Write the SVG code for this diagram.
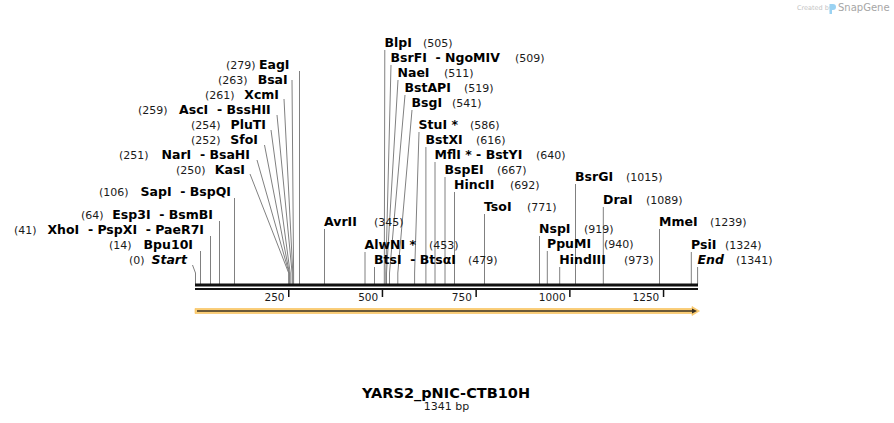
<svg xmlns="http://www.w3.org/2000/svg" width="894" height="423" viewBox="0 0 894 423">
<style>
.n{font-family:"DejaVu Sans",Verdana,sans-serif;font-weight:bold;font-size:12.5px;fill:#000;white-space:pre}
.p{font-family:"DejaVu Sans",Verdana,sans-serif;font-size:11px;fill:#1a1a1a}
.e{text-anchor:end}
.it{font-style:italic}
.tk{font-family:"DejaVu Sans",Verdana,sans-serif;font-size:10.5px;fill:#1a1a1a;text-anchor:end}
.c{fill:none;stroke:#808080;stroke-width:1}
</style>
<rect width="894" height="423" fill="#fff"/>

<g id="logo">
<text x="797" y="10" font-family="DejaVu Sans, sans-serif" font-size="6.5" fill="#c4c4c4">Created by</text>
<path d="M829.5 4 h3.5 a3 3 0 0 1 0 6 h-1 v4 h-2.5 z" fill="#9ad2f2"/>
<text x="838" y="11" font-family="DejaVu Sans, sans-serif" font-size="10" fill="#a6a6a6">SnapGene</text>
</g>

<g id="connectors" class="c">
<polyline points="192.5,265 195.5,273 195.5,284"/>
<line x1="200.5" y1="251" x2="200.5" y2="284"/>
<line x1="210.5" y1="236" x2="210.5" y2="284"/>
<line x1="219.5" y1="221" x2="219.5" y2="284"/>
<line x1="234.5" y1="198" x2="234.5" y2="284"/>
<polyline points="250,174 288.7,273 288.7,284"/>
<polyline points="257,160 289.1,273 289.1,284"/>
<polyline points="264.5,145 289.4,273 289.4,284"/>
<polyline points="271,130 290.2,273 290.2,284"/>
<polyline points="277,115 292.1,273 292.1,284"/>
<polyline points="284,99 292.8,273 292.8,284"/>
<polyline points="292,80 293.6,273 293.6,284"/>
<line x1="299.5" y1="71" x2="299.5" y2="284"/>
<line x1="324.5" y1="229" x2="324.5" y2="284"/>
<line x1="365" y1="252" x2="365" y2="284"/>
<line x1="374.5" y1="267" x2="374.5" y2="284"/>
<polyline points="384.8,50 384.3,273 384.3,284"/>
<polyline points="391,65 385.8,273 385.8,284"/>
<polyline points="398,80 386.5,273 386.5,284"/>
<polyline points="405,95 389.5,273 389.5,284"/>
<polyline points="412,110 397.8,273 397.8,284"/>
<polyline points="419,132 414.6,273 414.6,284"/>
<line x1="425.9" y1="147" x2="425.9" y2="284"/>
<line x1="435" y1="162" x2="435" y2="284"/>
<line x1="445" y1="177" x2="445" y2="284"/>
<line x1="454.5" y1="192" x2="454.5" y2="284"/>
<line x1="484.5" y1="214" x2="484.5" y2="284"/>
<line x1="539.5" y1="236" x2="539.5" y2="284"/>
<line x1="547.3" y1="251" x2="547.3" y2="284"/>
<line x1="559.7" y1="267" x2="559.7" y2="284"/>
<line x1="575.5" y1="184" x2="575.5" y2="284"/>
<line x1="603.3" y1="207" x2="603.3" y2="284"/>
<line x1="659.5" y1="229" x2="659.5" y2="284"/>
<line x1="691.3" y1="252" x2="691.3" y2="284"/>
<line x1="697.6" y1="267" x2="697.6" y2="284"/>
</g>

<g id="axis">
<rect x="195" y="283.5" width="503" height="3" fill="#111"/>
<rect x="195" y="288" width="503" height="2" fill="#111"/>
<rect x="288" y="290" width="1.5" height="7" fill="#111"/>
<rect x="381.7" y="290" width="1.5" height="7" fill="#111"/>
<rect x="475.4" y="290" width="1.5" height="7" fill="#111"/>
<rect x="569.1" y="290" width="1.5" height="7" fill="#111"/>
<rect x="662.8" y="290" width="1.5" height="7" fill="#111"/>
<text class="tk" x="284.5" y="300.5">250</text>
<text class="tk" x="378.2" y="300.5">500</text>
<text class="tk" x="471.9" y="300.5">750</text>
<text class="tk" x="565.6" y="300.5">1000</text>
<text class="tk" x="659.3" y="300.5">1250</text>
</g>

<g id="feature">
<polygon points="195,308.5 692,308.5 692,306.5 699.5,311 692,315.5 692,313.5 195,313.5" fill="#fbcd74" stroke="#f6bd55" stroke-width="0.6"/>
<line x1="197" y1="311" x2="693" y2="311" stroke="#3b3223" stroke-width="1.6"/>
<polygon points="692,308.6 697,311 692,313.4" fill="#3b3223"/>
</g>

<g id="EagI"><text class="p" x="226" y="69">(279)</text><text class="n e" x="289.5" y="69">EagI</text></g>
<g id="BsaI"><text class="p" x="218" y="84">(263)</text><text class="n e" x="287.7" y="84">BsaI</text></g>
<g id="XcmI"><text class="p" x="205" y="99">(261)</text><text class="n e" x="279" y="99">XcmI</text></g>
<g id="AscI"><text class="p" x="138" y="114">(259)</text><text class="n e" x="270.7" y="114">AscI  - BssHII</text></g>
<g id="PluTI"><text class="p" x="191" y="129">(254)</text><text class="n e" x="266" y="129">PluTI</text></g>
<g id="SfoI"><text class="p" x="191" y="144">(252)</text><text class="n e" x="258" y="144">SfoI</text></g>
<g id="NarI"><text class="p" x="119" y="159">(251)</text><text class="n e" x="250" y="159">NarI  - BsaHI</text></g>
<g id="KasI"><text class="p" x="176" y="174">(250)</text><text class="n e" x="245" y="174">KasI</text></g>
<g id="SapI"><text class="p" x="99" y="196">(106)</text><text class="n e" x="231" y="196">SapI  - BspQI</text></g>
<g id="Esp3I"><text class="p" x="81" y="219">(64)</text><text class="n e" x="213" y="219">Esp3I  - BsmBI</text></g>
<g id="XhoI"><text class="p" x="14" y="234">(41)</text><text class="n e" x="204" y="234">XhoI  - PspXI  - PaeR7I</text></g>
<g id="Bpu10I"><text class="p" x="109" y="249">(14)</text><text class="n e" x="193" y="249">Bpu10I</text></g>
<g id="Start"><text class="p" x="129" y="264">(0)</text><text class="n e it" x="187" y="264">Start</text></g>

<g id="BlpI"><text class="n" x="384.5" y="47">BlpI</text><text class="p" x="423" y="47">(505)</text></g>
<g id="BsrFI"><text class="n" x="390.5" y="62">BsrFI  - NgoMIV</text><text class="p" x="515" y="62">(509)</text></g>
<g id="NaeI"><text class="n" x="397.5" y="77">NaeI</text><text class="p" x="444" y="77">(511)</text></g>
<g id="BstAPI"><text class="n" x="404.5" y="92">BstAPI</text><text class="p" x="464" y="92">(519)</text></g>
<g id="BsgI"><text class="n" x="411.5" y="107">BsgI</text><text class="p" x="452" y="107">(541)</text></g>
<g id="StuI"><text class="n" x="418.5" y="129">StuI *</text><text class="p" x="470" y="129">(586)</text></g>
<g id="BstXI"><text class="n" x="425.5" y="144">BstXI</text><text class="p" x="476" y="144">(616)</text></g>
<g id="MflI"><text class="n" x="434.5" y="159">MflI * - BstYI</text><text class="p" x="536" y="159">(640)</text></g>
<g id="BspEI"><text class="n" x="444.5" y="174">BspEI</text><text class="p" x="497" y="174">(667)</text></g>
<g id="HincII"><text class="n" x="454" y="189">HincII</text><text class="p" x="510" y="189">(692)</text></g>
<g id="TsoI"><text class="n" x="484" y="211">TsoI</text><text class="p" x="527" y="211">(771)</text></g>
<g id="AvrII"><text class="n" x="324" y="226">AvrII</text><text class="p" x="374" y="226">(345)</text></g>
<g id="AlwNI"><text class="n" x="364.5" y="249">AlwNI *</text><text class="p" x="429" y="249">(453)</text></g>
<g id="BtsI"><text class="n" x="374" y="264">BtsI  - BtsαI</text><text class="p" x="468" y="264">(479)</text></g>
<g id="NspI"><text class="n" x="539" y="233">NspI</text><text class="p" x="584" y="233">(919)</text></g>
<g id="PpuMI"><text class="n" x="547" y="248">PpuMI</text><text class="p" x="604" y="248">(940)</text></g>
<g id="HindIII"><text class="n" x="559.3" y="264">HindIII</text><text class="p" x="624" y="264">(973)</text></g>
<g id="BsrGI"><text class="n" x="575" y="181">BsrGI</text><text class="p" x="626" y="181">(1015)</text></g>
<g id="DraI"><text class="n" x="603" y="204">DraI</text><text class="p" x="646" y="204">(1089)</text></g>
<g id="MmeI"><text class="n" x="659" y="226">MmeI</text><text class="p" x="710" y="226">(1239)</text></g>
<g id="PsiI"><text class="n" x="691" y="249">PsiI</text><text class="p" x="725" y="249">(1324)</text></g>
<g id="End"><text class="n it" x="697.5" y="264">End</text><text class="p" x="736" y="264">(1341)</text></g>

<g id="title">
<text x="446" y="397.5" text-anchor="middle" font-family="DejaVu Sans, Verdana, sans-serif" font-weight="bold" font-size="14.5" fill="#000">YARS2_pNIC-CTB10H</text>
<text x="446.5" y="410" text-anchor="middle" font-family="DejaVu Sans, Verdana, sans-serif" font-size="11" fill="#1a1a1a">1341 bp</text>
</g>
</svg>
